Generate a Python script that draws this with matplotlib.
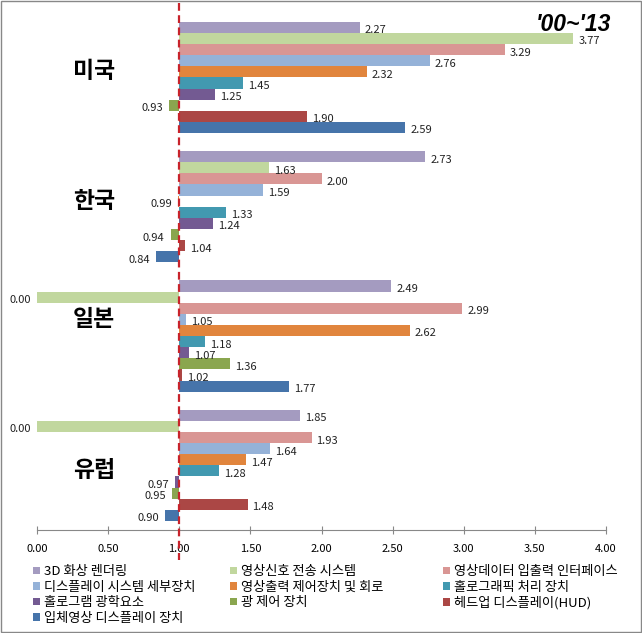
import numpy as np
import matplotlib
matplotlib.use('Agg')
import matplotlib.pyplot as plt
from matplotlib.patches import Patch, Rectangle
import matplotlib.transforms as mtransforms

plt.rcParams['font.family'] = ['Noto Sans CJK KR', 'DejaVu Sans']

# data
countries = ['미국', '한국', '일본', '유럽']
series = ['3D 화상 렌더링', '영상신호 전송 시스템', '영상데이터 입출력 인터페이스',
          '디스플레이 시스템 세부장치', '영상출력 제어장치 및 회로', '홀로그래픽 처리 장치',
          '홀로그램 광학요소', '광 제어 장치', '헤드업 디스플레이(HUD)', '입체영상 디스플레이 장치']
usa = [2.27, 3.77, 3.29, 2.76, 2.32, 1.45, 1.25, 0.93, 1.90, 2.59]
korea = [2.73, 1.63, 2.00, 1.59, 0.99, 1.33, 1.24, 0.94, 1.04, 0.84]
japan = [2.49, 0.00, 2.99, 1.05, 2.62, 1.18, 1.07, 1.36, 1.02, 1.77]
europe = [1.85, 0.00, 1.93, 1.64, 1.47, 1.28, 0.97, 0.95, 1.48, 0.90]
xticks = [0.0, 0.5, 1.0, 1.5, 2.0, 2.5, 3.0, 3.5, 4.0]
period = "'00~'13"

colors = ['#A49BC0', '#C1D79E', '#D99694', '#95B2D8', '#E1853D',
          '#4299B0', '#735A92', '#8AA64F', '#AB4745', '#4674AA']

values = np.array([usa, korea, japan, europe])
base = 1.0
bar_h = 0.086

fig = plt.figure(figsize=(6.42, 6.33), dpi=100)
ax = fig.add_axes([37/642, 1 - 530/633, (606 - 37)/642, (530 - 5)/633])

idx = np.arange(len(countries))
for j, name in enumerate(series):
    y = idx + (j - 4.5) * bar_h
    v = values[:, j]
    ax.barh(y, v - base, left=base, height=bar_h, color=colors[j], label=name)
    for yy, vv in zip(y, v):
        if vv >= base:
            ax.annotate(f'{vv:.2f}', (vv, yy), xytext=(5, -3), textcoords='offset pixels',
                        ha='left', va='center', fontsize=8, color='#222222')
        else:
            ax.annotate(f'{vv:.2f}', (vv, yy), xytext=(-6, -3), textcoords='offset pixels',
                        ha='right', va='center', fontsize=8, color='#222222')

# country labels
label_shift = [-0.5, -0.5, -1.5, 0.5]
for i, c in enumerate(countries):
    ax.text(0.40, i + label_shift[i] * bar_h, c, ha='center', va='center',
            fontsize=16.5, fontweight='bold')

ax.set_xlim(0, 4)
ax.set_ylim(3.50, -0.56)
ax.set_xticks(xticks)
ax.set_xticklabels([f'{t:.2f}' for t in xticks], fontsize=8)
ax.set_yticks([])
for s in ['top', 'right', 'left']:
    ax.spines[s].set_visible(False)
ax.spines['bottom'].set_color('#888888')
ax.tick_params(axis='x', direction='inout', length=6, color='#888888', pad=7)

# red dashed line at 1.00
trans = mtransforms.blended_transform_factory(ax.transData, fig.transFigure)
ax.plot([1, 1], [1 - 3/633, 1 - 560/633], transform=trans, color='#C8232B',
        linestyle=(0, (3.5, 2)), linewidth=1.6, clip_on=False, zorder=5)

ax.text(1.009, 0.985, period, transform=ax.transAxes, ha='right', va='top',
        fontsize=16.5, fontweight='bold', fontstyle='italic', family='Liberation Sans')

# legend in three columns
col_x = [33/642, 230/642, 443/642]
cols = [[0, 3, 6, 9], [1, 4, 7], [2, 5, 8]]
for cx, items in zip(col_x, cols):
    handles = [Patch(facecolor=colors[k], label=series[k]) for k in items]
    fig.legend(handles=handles, loc='upper left', bbox_to_anchor=(cx, 1 - 565/633),
               frameon=False, fontsize=9.5, handlelength=0.5, handleheight=0.5,
               handletextpad=0.3, labelspacing=0.2, borderpad=0, borderaxespad=0)

fig.patches.append(Rectangle((0.001, 0.001), 0.997, 0.997, transform=fig.transFigure,
                             fill=False, edgecolor='#888888', linewidth=1))

fig.savefig('out.png', dpi=100)
